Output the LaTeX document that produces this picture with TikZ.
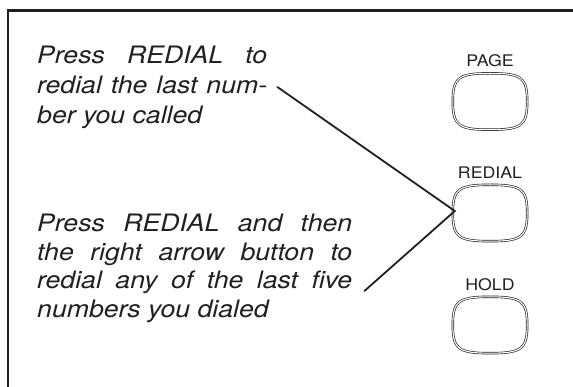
\documentclass[tikz,border=0pt]{standalone}
\usepackage{fontspec}
\setmainfont{TeX Gyre Heros}[FakeStretch=1.11]
\usetikzlibrary{calc}
\definecolor{ink}{HTML}{231F20}
\newcommand\drawbtn[1]{%
  \draw[btnline] (#1.north)
    .. controls ($(#1.north)!0.85!(#1.north east)$) and ($(#1.east)!0.85!(#1.north east)$) .. (#1.east)
    .. controls ($(#1.east)!0.85!(#1.south east)$) and ($(#1.south)!0.85!(#1.south east)$) .. (#1.south)
    .. controls ($(#1.south)!0.85!(#1.south west)$) and ($(#1.west)!0.85!(#1.south west)$) .. (#1.west)
    .. controls ($(#1.west)!0.85!(#1.north west)$) and ($(#1.north)!0.85!(#1.north west)$) .. cycle;}
\begin{document}
\begin{tikzpicture}[x=1pt,y=-1pt,
  body/.style={anchor=base west, inner sep=0pt, text=ink, font=\fontsize{24}{29}\selectfont\itshape},
  lbl/.style={anchor=base, inner sep=0pt, text=ink, font=\fontsize{16}{19}\selectfont},
  btnbox/.style={minimum width=74pt, minimum height=56pt, inner sep=0pt},
  btnline/.style={draw=ink, line width=0.65pt, double=white, double distance=1.1pt},
  lead/.style={draw=ink, line width=1.8pt, line cap=round, line join=miter},
  frame/.style={draw=ink, line width=2.2pt}]
\useasboundingbox (0,0) rectangle (573,387);
\draw[frame] (8,390) -- (8,10.5) -- (576,10.5);
% upper text
\node[body] (t1a) at (37,64)    {\makebox[230pt][s]{Press REDIAL to}};
\node[body] (t1b) at (37,94)    {\makebox[230pt][s]{redial the last num-}};
\node[body] (t1c) at (37,123.5) {ber you called};
% lower text
\node[body] (t2a) at (37,232)   {\makebox[315pt][s]{Press REDIAL and then}};
\node[body] (t2b) at (37,260.5) {\makebox[315pt][s]{the right arrow button to}};
\node[body] (t2c) at (37,289)   {\makebox[315pt][s]{redial any of the last five}};
\node[body] (t2d) at (37,317.5) {numbers you dialed};
% labels
\node[lbl] (lp) at (490,67)  {PAGE};
\node[lbl] (lr) at (490,179) {REDIAL};
\node[lbl] (lh) at (490,291) {HOLD};
% buttons
\node[btnbox] (bp) at (490,101.5) {};
\node[btnbox] (br) at (490,213) {};
\node[btnbox] (bh) at (490,325) {};
\drawbtn{bp}
\drawbtn{br}
\drawbtn{bh}
% leaders
\coordinate (tip) at ($(br.west)+(2,-2)$);
\coordinate (c1) at ($(t1b.base east)+(10,-7)$);
\coordinate (c2) at ($(t2c.base east)+(12,2)$);
\draw[lead] (c1) -- (tip) -- (c2);
\end{tikzpicture}
\end{document}
